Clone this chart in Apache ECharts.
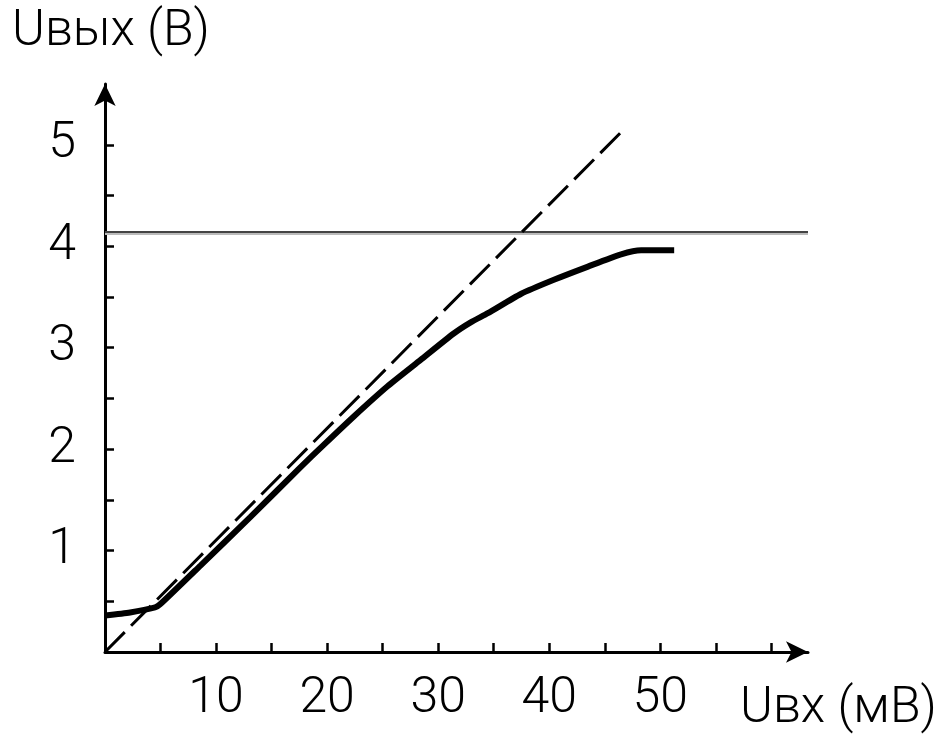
<!DOCTYPE html>
<html>
<head>
<meta charset="utf-8">
<script src="https://cdn.jsdelivr.net/npm/echarts@6/dist/echarts.min.js"></script>
<style>
html,body{margin:0;padding:0;background:#fff;}
#chart{width:942px;height:744px;}
</style>
</head>
<body>
<div id="chart"></div>
<script>
// Solid measured curve: Uвых vs Uвх
const solidX = [0, 2.26, 4.51, 4.96, 8.57, 13.08, 17.59, 19.67, 22.38, 25.44, 28.42, 31.40, 32.93, 34.47, 37.44, 40.42, 43.49, 46.47, 48.27, 51.25];
const solidY = [0.36, 0.39, 0.44, 0.47, 0.85, 1.33, 1.82, 2.04, 2.32, 2.62, 2.88, 3.14, 3.25, 3.34, 3.53, 3.67, 3.80, 3.92, 3.96, 3.96];
// Ideal (dashed) linear characteristic
const dashedX = [0, 46.7];
const dashedY = [0, 5.15];
// Saturation level (horizontal line)
const limitY = 4.14;
const limitX = [0, 63.3];
// Axis ticks and labels
const xTickValues = [5, 10, 15, 20, 25, 30, 35, 40, 45, 50, 55, 60];
const xLabelValues = [10, 20, 30, 40, 50];
const yTickValues = [0.5, 1, 1.5, 2, 2.5, 3, 3.5, 4, 4.5, 5];
const yLabelValues = [1, 2, 3, 4, 5];
const xTitle = 'Uвх (мВ)';
const yTitle = 'Uвых (В)';

const FONT = 'Roboto, "Liberation Sans", Arial, sans-serif';
const zip = (a, b) => a.map((v, i) => [v, b[i]]);

const chart = echarts.init(document.getElementById('chart'));
chart.setOption({
  animation: false,
  backgroundColor: '#fff',
  grid: { left: 105, right: 134, top: 84, bottom: 92, containLabel: false },
  xAxis: {
    type: 'value', min: 0, max: 63.3,
    axisLine: { show: true, symbol: ['none', 'arrow'], symbolSize: [16, 22], lineStyle: { color: '#000', width: 3 } },
    axisTick: { show: true, inside: true, length: 9, customValues: xTickValues, lineStyle: { color: '#000', width: 2.5 } },
    axisLabel: { show: true, customValues: xLabelValues, fontSize: 50, fontWeight: 300, fontFamily: FONT, color: '#000', margin: 22 },
    splitLine: { show: false }
  },
  yAxis: {
    type: 'value', min: 0, max: 5.6,
    axisLine: { show: true, symbol: ['none', 'arrow'], symbolSize: [16, 22], lineStyle: { color: '#000', width: 3 } },
    axisTick: { show: true, inside: true, length: 9, customValues: yTickValues, lineStyle: { color: '#000', width: 2.5 } },
    axisLabel: { show: true, customValues: yLabelValues, fontSize: 50, fontWeight: 300, fontFamily: FONT, color: '#000', margin: 29 },
    splitLine: { show: false }
  },
  graphic: [
    { type: 'text', left: 12, top: 7, style: { text: yTitle, font: '300 50px ' + FONT, fill: '#000' } },
    { type: 'text', left: 740, top: 684, style: { text: xTitle, font: '300 50px ' + FONT, fill: '#000' } }
  ],
  series: [
    {
      type: 'line', data: limitX.map(x => [x, limitY]), symbol: 'none', z: 1,
      lineStyle: { color: '#444', width: 2, shadowColor: '#bbb', shadowOffsetY: 2, shadowBlur: 0 }
    },
    {
      type: 'line', data: zip(dashedX, dashedY), symbol: 'none', z: 2,
      lineStyle: { color: '#000', width: 3, type: [28, 9] }
    },
    {
      type: 'line', data: zip(solidX, solidY), symbol: 'none', smooth: 0.2, z: 3,
      lineStyle: { color: '#000', width: 6 }
    }
  ]
});
</script>
</body>
</html>
